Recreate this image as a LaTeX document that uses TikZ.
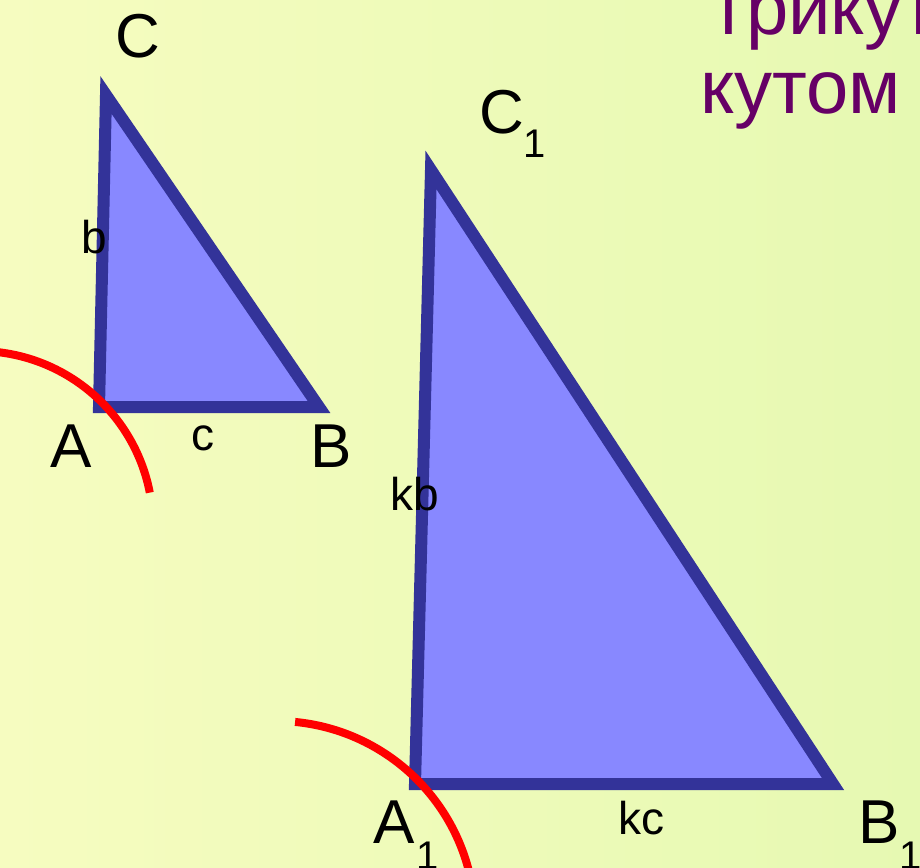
\documentclass[tikz,border=0pt]{standalone}
\usepackage{fontspec}
\setmainfont{Liberation Sans}
\usetikzlibrary{calc}
\definecolor{bgleft}{RGB}{246,252,192}
\definecolor{bgright}{RGB}{230,249,178}
\definecolor{triedge}{RGB}{51,51,153}
\definecolor{trifill}{RGB}{136,136,255}
\definecolor{headtext}{RGB}{102,0,102}
\begin{document}
\begin{tikzpicture}[
    x=1pt, y=-1pt,
    lbl/.style={inner sep=0pt, anchor=base west, font=\fontsize{62}{62}\selectfont},
    side/.style={inner sep=0pt, anchor=base west, font=\fontsize{46}{46}\selectfont},
    sub/.style={inner sep=0pt, anchor=base west, font=\fontsize{40}{40}\selectfont},
    head/.style={inner sep=0pt, anchor=base west, text=headtext, font=\fontsize{76}{76}\selectfont},
    tri/.style={draw=triedge, fill=trifill, line width=12pt, line join=miter},
    arcmark/.style={draw=red, line width=8pt}
  ]
  \useasboundingbox (0,0) rectangle (920,867);
  \clip (0,0) rectangle (920,867);
  \shade[left color=bgleft, right color=bgright] (0,0) rectangle (920,867);

  % small triangle
  \coordinate (A) at (99,407);
  \coordinate (B) at (319,407);
  \coordinate (C) at (106,95);
  \draw[tri] (A) -- (B) -- (C) -- cycle;

  % large triangle
  \coordinate (A1) at (415,784);
  \coordinate (B1) at (833,784);
  \coordinate (C1) at (431,170);
  \draw[tri] (A1) -- (B1) -- (C1) -- cycle;

  % angle arcs
  \coordinate (oA) at (-22,526);
  \coordinate (oA1) at (276,920);
  \draw[arcmark] (oA) ++(-83:175) arc[start angle=-83, end angle=-11, radius=175];
  \draw[arcmark] (oA1) ++(-84.5:199) arc[start angle=-84.5, end angle=-14, radius=199];

  % vertex labels
  \node[lbl] (lC) at (115,58) {C};
  \node[lbl] (lA) at (50,467) {A};
  \node[lbl] (lB) at (310,467) {B};
  \node[lbl] (lC1) at (479,133) {C};
  \node[sub] (sC1) at (523,157) {1};
  \node[lbl] (lA1) at (373,843) {A};
  \node[sub] (sA1) at (416,869) {1};
  \node[lbl] (lB1) at (858,843) {B};
  \node[sub] (sB1) at (899,869) {1};

  % side labels
  \node[side] (sb) at (81,253) {b};
  \node[side] (sc) at (191,450) {c};
  \node[side] (skb) at (390,510) {kb};
  \node[side] (skc) at (618,834) {kc};

  % heading
  \node[head] (h1) at (711,35) {трикут};
  \node[head] (h2) at (700,113) {кутом};
\end{tikzpicture}
\end{document}
